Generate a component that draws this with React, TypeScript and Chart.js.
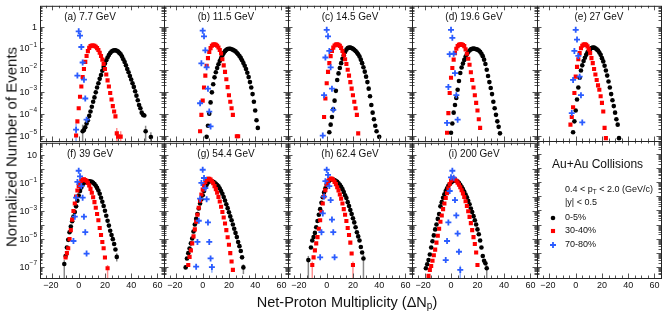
import React, { useEffect, useRef } from "react";
import { Chart, registerables } from "chart.js";
Chart.register(...registerables);

const FONT = '"Liberation Sans", Arial, Helvetica, sans-serif';

// ---------------- data ----------------
const energies = ["7.7", "11.5", "14.5", "19.6", "27", "39", "54.4", "62.4", "200"];
const panelTags = ["a", "b", "c", "d", "e", "f", "g", "h", "i"];
const centralities = ["0-5%", "30-40%", "70-80%"];
const xTickLabels = [-20, 0, 20, 40, 60];
const yTickExpTop = [0, -1, -2, -3, -4, -5];
const yTickExpBottom = [1, -1, -3, -5, -7];

// first net-proton bin (ΔNp) of every series, per panel a..i
const firstBin0to5 = [3, 3, 2, 0, -2, -11, -13, -14, -19];
const firstBin30to40 = [-2, -2, -2, -3, -4, -10, -11, -11, -17];
const firstBin70to80 = [-2, -2, -3, -3, -3, -4, -5, -5, -4];

// log10(normalized number of events), one value per integer bin (null = no point)
const a0to5 = [-4.80, -4.75, -4.62, -4.45, -4.30, -4.10, -3.90, -3.68, -3.45, -3.25, -3.02, -2.80, -2.60, -2.40, -2.22, -2.03, -1.86, -1.70, -1.55, -1.42, -1.31, -1.22, -1.15, -1.11, -1.09, -1.09, -1.11, -1.15, -1.21, -1.27, -1.38, -1.50, -1.63, -1.78, -1.95, -2.10, -2.27, -2.43, -2.60, -2.77, -2.97, -3.17, -3.38, -3.60, -3.75, -3.95, -4.05, -4.08, -4.80, null, null, null, -5.07];
const a30to40 = [-5.0, -4.35, -3.75, -3.22, -2.75, -2.32, -1.95, -1.62, -1.35, -1.13, -0.98, -0.90, -0.87, -0.87, -0.89, -0.93, -0.99, -1.08, -1.20, -1.35, -1.52, -1.72, -1.95, -2.20, -2.47, -2.75, -3.05, -3.35, -3.65, -3.90, -4.12, -4.90, -5.05, null, -5.05];
const a70to80 = [-4.73, -2.25, -0.22, -0.42, -0.94, -1.65, -2.44, -3.30, -4.27];

const b0to5 = [-5.06, -4.55, -4.00, -3.48, -3.02, -2.65, -2.33, -2.10, -1.90, -1.73, -1.58, -1.45, -1.32, -1.21, -1.13, -1.07, -1.03, -1.02, -1.02, -1.04, -1.07, -1.10, -1.14, -1.20, -1.27, -1.35, -1.44, -1.55, -1.67, -1.80, -1.95, -2.12, -2.32, -2.55, -2.80, -3.10, -3.45, -3.85, -4.30, -4.65];
const b30to40 = [-4.80, -4.05, -3.40, -2.80, -2.25, -1.80, -1.45, -1.17, -0.99, -0.88, -0.83, -0.82, -0.84, -0.88, -0.96, -1.08, -1.24, -1.50, -1.78, -2.08, -2.42, -2.78, -3.15, -3.45, -3.75, -4.05, null, null, -5.03, -5.03];
const b70to80 = [-3.52, -1.69, -0.19, -0.45, -1.09, -1.87, -2.85, -3.90, -4.58];

const c0to5 = [-4.85, -4.50, -4.15, -3.80, -3.40, -2.95, -2.45, -2.15, -1.90, -1.68, -1.48, -1.32, -1.17, -1.06, -0.99, -0.97, -0.97, -0.99, -1.02, -1.07, -1.12, -1.19, -1.27, -1.38, -1.52, -1.68, -1.87, -2.07, -2.30, -2.55, -2.85, -3.20, -3.60, -3.95, -4.25, -4.55, -4.80, null, -5.06];
const c30to40 = [-4.15, -3.30, -2.60, -2.08, -1.68, -1.36, -1.12, -0.97, -0.87, -0.83, -0.82, -0.84, -0.89, -0.98, -1.12, -1.30, -1.50, -1.72, -1.98, -2.25, -2.55, -2.85, -3.15, -3.45, -3.75, -4.05, -4.90];
const c70to80 = [-5.0, -3.15, -1.42, -0.15, -0.45, -1.12, -1.87, -2.85, -3.82];

const d0to5 = [-4.87, -4.45, -3.95, -3.60, -3.28, -2.90, -2.50, -2.13, -1.88, -1.70, -1.53, -1.39, -1.27, -1.17, -1.10, -1.05, -1.02, -1.01, -1.02, -1.04, -1.06, -1.10, -1.16, -1.25, -1.36, -1.52, -1.72, -1.98, -2.27, -2.55, -2.82, -3.10, -3.45, -3.75, -4.05, -4.35, -4.60, -4.90];
const d30to40 = [-4.87, -3.97, -3.05, -2.35, -1.90, -1.52, -1.22, -1.02, -0.90, -0.84, -0.82, -0.82, -0.85, -0.90, -1.05, -1.25, -1.48, -1.75, -2.10, -2.45, -2.80, -3.15, -3.50, -3.85, -4.25, -4.65];
const d70to80 = [-4.42, -2.77, -1.27, -0.15, -0.52, -1.25, -2.14, -3.15, -4.27];

const e0to5 = [-4.85, -4.35, -3.85, -3.35, -2.80, -2.35, -2.02, -1.78, -1.58, -1.43, -1.30, -1.18, -1.09, -1.03, -0.99, -0.97, -0.97, -1.00, -1.05, -1.10, -1.19, -1.30, -1.45, -1.60, -1.80, -2.02, -2.25, -2.52, -2.80, -3.10, -3.38, -3.65, -3.95, -4.25, -4.50, -5.12];
const e30to40 = [-4.50, -4.15, -3.70, -3.05, -2.30, -1.85, -1.50, -1.22, -1.00, -0.88, -0.83, -0.82, -0.84, -0.91, -1.05, -1.22, -1.45, -1.68, -1.95, -2.20, -2.45, -2.70, -2.90, -3.20, -3.50, -3.90, -4.65, -5.12];
const e70to80 = [-3.97, -2.45, -1.12, -0.15, -0.60, -1.35, -2.30, -3.15, -4.40];

const f0to5 = [-6.78, -6.20, -5.60, -5.05, -4.50, -4.10, -3.72, -3.38, -3.05, -2.65, -2.25, -1.88, -1.55, -1.30, -1.10, -0.97, -0.89, -0.85, -0.84, -0.85, -0.87, -0.90, -0.96, -1.05, -1.17, -1.33, -1.51, -1.75, -2.03, -2.32, -2.62, -2.97, -3.32, -3.68, -4.03, -4.40, -4.70, -5.00, -5.35, -5.74, -6.27];
const f30to40 = [-6.31, -6.00, -5.65, -5.00, -4.35, -3.60, -2.98, -2.45, -1.95, -1.52, -1.20, -0.97, -0.82, -0.74, -0.72, -0.76, -0.84, -0.97, -1.15, -1.40, -1.68, -2.00, -2.35, -2.75, -3.20, -3.65, -4.20, -4.70, -5.20, -5.65, -6.31, null, -7.08];
const f70to80 = [-5.13, -3.39, -2.03, -0.90, -0.10, -0.50, -1.20, -2.03, -3.39, -4.50, -6.03];

const g0to5 = [-7.02, -6.38, -6.00, -5.67, -5.30, -4.95, -4.45, -3.95, -3.55, -3.20, -2.80, -2.45, -2.15, -1.85, -1.55, -1.30, -1.10, -0.95, -0.87, -0.84, -0.85, -0.89, -0.95, -1.03, -1.12, -1.22, -1.37, -1.55, -1.75, -1.98, -2.23, -2.50, -2.78, -3.07, -3.37, -3.65, -3.95, -4.25, -4.55, -4.85, -5.20, -5.50, -5.85, -6.30, -7.02];
const g30to40 = [-6.85, -6.27, -5.80, -5.30, -4.80, -4.30, -3.75, -3.25, -2.75, -2.25, -1.80, -1.45, -1.15, -0.90, -0.75, -0.68, -0.68, -0.74, -0.85, -1.00, -1.20, -1.42, -1.68, -1.98, -2.30, -2.68, -3.05, -3.45, -3.88, -4.35, -4.86, -5.40, -6.00, -6.60, -7.20];
const g70to80 = [-6.97, -5.20, -3.68, -2.10, -0.97, -0.03, -0.62, -1.35, -2.14, -3.80, -5.20, -6.38, -7.00];

const h0to5 = [-6.50, null, -5.60, -5.09, -4.85, -4.55, -4.15, -3.70, -3.25, -2.85, -2.40, -2.00, -1.65, -1.35, -1.10, -0.92, -0.80, -0.75, -0.73, -0.74, -0.77, -0.83, -0.90, -1.00, -1.10, -1.25, -1.42, -1.62, -1.85, -2.05, -2.35, -2.62, -2.92, -3.20, -3.50, -3.80, -4.15, -4.50, -4.80, -5.09, -5.56, -5.95, -6.38];
const h30to40 = [-6.85, -6.30, -5.80, -5.30, -4.85, -4.25, -3.65, -3.05, -2.45, -1.95, -1.50, -1.10, -0.85, -0.70, -0.66, -0.68, -0.76, -0.90, -1.06, -1.28, -1.52, -1.80, -2.10, -2.45, -2.85, -3.25, -3.70, -4.20, -4.70, -5.25, -6.03, -6.85];
const h70to80 = [-6.30, -4.50, -3.16, -1.95, -0.85, -0.03, -0.40, -1.20, -2.20, -3.60, -4.50, -6.30];

const i0to5 = [-7.08, -6.80, -6.50, -6.10, -5.60, -5.15, -4.73, -4.30, -3.95, -3.55, -3.20, -2.65, -2.35, -2.03, -1.78, -1.55, -1.35, -1.18, -1.05, -0.95, -0.87, -0.82, -0.80, -0.82, -0.88, -0.97, -1.10, -1.25, -1.42, -1.60, -1.80, -2.00, -2.25, -2.50, -2.80, -3.05, -3.35, -3.65, -3.95, -4.30, -4.65, -5.10, -5.60, -6.20, -6.55, -6.73, -7.08];
const i30to40 = [-7.63, -7.20, -6.92, -6.55, -6.15, -5.75, -5.25, -4.75, -4.25, -3.75, -3.30, -2.85, -2.45, -2.05, -1.70, -1.35, -1.05, -0.80, -0.66, -0.66, -0.72, -0.82, -0.95, -1.10, -1.28, -1.50, -1.72, -1.98, -2.28, -2.62, -3.00, -3.40, -3.85, -4.35, -4.85, -5.35, -5.95, -6.85];
const i70to80 = [-6.50, -5.13, -3.80, -1.55, -0.57, -0.10, -0.60, -2.20, -3.30, -4.60, -5.90, -7.20];

// vertical error bars: [panel, series, bin, log10 low, log10 high]
const errorBars: number[][] = [
  [0, 0, 3, -5.3, -4.5], [0, 0, 51, -5.3, -4.55], [0, 0, 55, -5.3, -4.85],
  [0, 1, 29, -5.3, -4.65], [0, 1, 30, -5.3, -4.8], [0, 1, 32, -5.3, -4.8], [0, 2, -2, -5.3, -4.45],
  [5, 1, 22, -7.8, -6.85], [5, 0, -11, -7.8, -6.5], [5, 0, 29, -6.6, -6.0],
  [6, 0, 31, -7.5, -6.8], [6, 2, 7, -7.4, -6.8],
  [7, 0, -14, -7.8, -6.2], [7, 0, 28, -7.8, -6.1], [7, 1, -11, -7.8, -6.6], [7, 1, 20, -7.8, -6.6],
  [8, 0, 27, -7.8, -6.85], [8, 2, 7, -7.8, -6.9],
];

const series0to5 = [a0to5, b0to5, c0to5, d0to5, e0to5, f0to5, g0to5, h0to5, i0to5];
const series30to40 = [a30to40, b30to40, c30to40, d30to40, e30to40, f30to40, g30to40, h30to40, i30to40];
const series70to80 = [a70to80, b70to80, c70to80, d70to80, e70to80, f70to80, g70to80, h70to80, i70to80];

// ---------------- layout / style ----------------
const COL_LEFT = [40, 164, 288, 412, 537];
const COL_W = [124, 124, 124, 125, 124];
const ROW_TOP = [4, 141];
const ROW_H = [137, 137];
const PAD = { left: 40, right: 10, top: 4, bottom: 18 };
const Y_LOG_RANGE = [[-5.25, 0.95], [-7.78, 1.9]];
const X_MIN = -29.5;
const X_MAX = 65;
const COLORS = ["#000000", "#ff0000", "#2b5cff"];
const ERR_COLORS = ["#8a8a8a", "#ff9090", "#8fb0ff"];
const STYLES = ["circle", "rect", "cross"];
const RADII = [2.3, 2.9, 3.0];

function toPoints(first: number, vals: (number | null)[]) {
  const pts: { x: number; y: number }[] = [];
  vals.forEach((v, k) => {
    if (v !== null) pts.push({ x: first + k, y: Math.pow(10, v) });
  });
  return pts;
}

function buildDatasets(p: number) {
  const firsts = [firstBin0to5[p], firstBin30to40[p], firstBin70to80[p]];
  const vals = [series0to5[p], series30to40[p], series70to80[p]];
  const ds: any[] = [];
  [2, 1, 0].forEach((s) => {
    ds.push({
      label: centralities[s],
      data: toPoints(firsts[s], vals[s]),
      showLine: false,
      pointStyle: STYLES[s],
      pointRadius: RADII[s],
      pointBackgroundColor: COLORS[s],
      pointBorderColor: COLORS[s],
      pointBorderWidth: s === 2 ? 1.8 : 0,
      backgroundColor: COLORS[s],
      borderColor: COLORS[s],
    });
  });
  return ds;
}

function drawMarker(ctx: CanvasRenderingContext2D, s: number, x: number, y: number) {
  ctx.save();
  ctx.fillStyle = COLORS[s];
  ctx.strokeStyle = COLORS[s];
  if (s === 0) {
    ctx.beginPath();
    ctx.arc(x, y, RADII[0], 0, Math.PI * 2);
    ctx.fill();
  } else if (s === 1) {
    const h = RADII[1] * Math.SQRT1_2;
    ctx.fillRect(x - h, y - h, 2 * h, 2 * h);
  } else {
    ctx.lineWidth = 1.8;
    ctx.beginPath();
    ctx.moveTo(x - RADII[2], y);
    ctx.lineTo(x + RADII[2], y);
    ctx.moveTo(x, y - RADII[2]);
    ctx.lineTo(x, y + RADII[2]);
    ctx.stroke();
  }
  ctx.restore();
}

function makeDecor(p: number, row: number, col: number) {
  return {
    id: "decor" + p,
    beforeDatasetsDraw(chart: any) {
      const { ctx } = chart;
      const xs = chart.scales.x;
      const ys = chart.scales.y;
      ctx.save();
      ctx.lineWidth = 1.5;
      errorBars.filter((e) => e[0] === p).forEach((e) => {
        const px = xs.getPixelForValue(e[2]);
        const lo = Math.min(ys.getPixelForValue(Math.pow(10, e[3])), chart.chartArea.bottom);
        const hi = ys.getPixelForValue(Math.pow(10, e[4]));
        ctx.strokeStyle = ERR_COLORS[e[1]];
        ctx.beginPath();
        ctx.moveTo(px, lo);
        ctx.lineTo(px, hi);
        ctx.stroke();
      });
      ctx.restore();
    },
    afterDraw(chart: any) {
      const { ctx, chartArea: a } = chart;
      const xs = chart.scales.x;
      const ys = chart.scales.y;
      ctx.save();
      // ticks
      ctx.strokeStyle = "#555";
      ctx.lineWidth = 1;
      ctx.beginPath();
      for (let v = -25; v <= 65; v += 5) {
        const px = Math.round(xs.getPixelForValue(v)) + 0.5;
        if (px <= a.left + 1 || px >= a.right - 1) continue;
        const len = v % 20 === 0 ? 4.5 : 2.5;
        ctx.moveTo(px, a.bottom);
        ctx.lineTo(px, a.bottom - len);
        ctx.moveTo(px, a.top);
        ctx.lineTo(px, a.top + len);
      }
      const [lmin, lmax] = Y_LOG_RANGE[row];
      for (let e = Math.floor(lmin); e <= Math.ceil(lmax); e++) {
        for (let m = 1; m <= 9; m++) {
          const v = m * Math.pow(10, e);
          const py = Math.round(ys.getPixelForValue(v)) + 0.5;
          if (py <= a.top + 1 || py >= a.bottom - 1) continue;
          const len = m === 1 ? 4.5 : 2.5;
          ctx.moveTo(a.left, py);
          ctx.lineTo(a.left + len, py);
          ctx.moveTo(a.right, py);
          ctx.lineTo(a.right - len, py);
        }
      }
      ctx.stroke();
      // frame
      ctx.strokeStyle = "#222";
      ctx.strokeRect(a.left + 0.5, a.top + 0.5, a.right - a.left, a.bottom - a.top);

      ctx.fillStyle = "#111";
      // y tick labels
      if (col === 0) {
        const exps = row === 0 ? yTickExpTop : yTickExpBottom;
        exps.forEach((ex) => {
          const py = ys.getPixelForValue(Math.pow(10, ex));
          const right = a.left - 3;
          ctx.textBaseline = "middle";
          if (ex === 0 || ex === 1) {
            ctx.font = `9px ${FONT}`;
            ctx.textAlign = "right";
            ctx.fillText(ex === 0 ? "1" : "10", right, py + 0.5);
          } else {
            ctx.font = `6.5px ${FONT}`;
            const sup = "\u2212" + String(-ex);
            const ws = ctx.measureText(sup).width;
            ctx.textAlign = "right";
            ctx.fillText(sup, right, py - 3.5);
            ctx.font = `9px ${FONT}`;
            ctx.fillText("10", right - ws, py + 0.5);
          }
        });
      }
      // x tick labels
      if (row === 1) {
        ctx.font = `9px ${FONT}`;
        ctx.textAlign = "center";
        ctx.textBaseline = "top";
        xTickLabels.forEach((v) => {
          const px = xs.getPixelForValue(v);
          const txt = v < 0 ? "\u2212" + String(-v) : String(v);
          ctx.fillText(txt, px - (v < 0 ? 1.5 : 0), a.bottom + 3);
        });
      }
      // panel label
      if (p < 9) {
        ctx.font = `10px ${FONT}`;
        ctx.textAlign = "center";
        ctx.textBaseline = "middle";
        const lx = col === 0 ? a.left + 50 : a.left + 62;
        ctx.fillText(`(${panelTags[p]}) ${energies[p]} GeV`, lx, a.top + 11);
      } else {
        // legend panel
        ctx.textAlign = "left";
        ctx.textBaseline = "middle";
        ctx.font = `12px ${FONT}`;
        ctx.fillText("Au+Au Collisions", a.left + 15, a.top + 24);
        ctx.font = `9px ${FONT}`;
        let x0 = a.left + 28;
        const y0 = a.top + 49;
        const t1 = "0.4 < p";
        ctx.fillText(t1, x0, y0);
        x0 += ctx.measureText(t1).width;
        ctx.font = `6.5px ${FONT}`;
        ctx.fillText("T", x0, y0 + 2.5);
        x0 += ctx.measureText("T").width;
        ctx.font = `9px ${FONT}`;
        ctx.fillText(" < 2.0 (GeV/c)", x0, y0);
        ctx.fillText("|y| < 0.5", a.left + 28, a.top + 62);
        const ly = [77, 90, 104];
        centralities.forEach((c, s) => {
          drawMarker(ctx, s, a.left + 16, a.top + ly[s]);
          ctx.fillStyle = "#111";
          ctx.font = `9px ${FONT}`;
          ctx.fillText(c, a.left + 28, a.top + ly[s]);
        });
      }
      ctx.restore();
    },
  };
}

function Panel({ p }: { p: number }) {
  const ref = useRef<HTMLCanvasElement>(null);
  const row = Math.floor(p / 5);
  const col = p % 5;
  const w = COL_W[col] + PAD.left + PAD.right;
  const h = ROW_H[row] + PAD.top + PAD.bottom;
  useEffect(() => {
    const chart = new Chart(ref.current as HTMLCanvasElement, {
      type: "scatter",
      data: { datasets: p < 9 ? buildDatasets(p) : [] },
      options: {
        animation: false,
        responsive: false,
        maintainAspectRatio: false,
        events: [],
        layout: { padding: PAD },
        scales: {
          x: { type: "linear", min: X_MIN, max: X_MAX, display: false },
          y: {
            type: "logarithmic",
            min: Math.pow(10, Y_LOG_RANGE[row][0]),
            max: Math.pow(10, Y_LOG_RANGE[row][1]),
            display: false,
          },
        },
        plugins: { legend: { display: false }, tooltip: { enabled: false } },
      } as any,
      plugins: [makeDecor(p, row, col) as any],
    });
    return () => chart.destroy();
  }, [p]);
  return (
    <canvas
      ref={ref}
      width={w}
      height={h}
      style={{
        position: "absolute",
        left: COL_LEFT[col] - PAD.left,
        top: ROW_TOP[row] - PAD.top,
        width: w,
        height: h,
      }}
    />
  );
}

export default function App() {
  const panels = Array.from({ length: 10 }, (_, k) => k);
  return (
    <div
      style={{
        position: "absolute",
        left: 0,
        top: 0,
        width: 670,
        height: 313,
        background: "#fff",
        overflow: "hidden",
        fontFamily: FONT,
        color: "#111",
      }}
    >
      {panels.map((k) => (
        <Panel key={k} p={k} />
      ))}
      <div
        style={{
          position: "absolute",
          left: 11,
          top: 147,
          transform: "translate(-50%, -50%) rotate(-90deg)",
          whiteSpace: "nowrap",
          fontSize: 15,
        }}
      >
        Normalized Number of Events
      </div>
      <div
        style={{
          position: "absolute",
          left: 347,
          top: 302,
          transform: "translate(-50%, -50%)",
          whiteSpace: "nowrap",
          fontSize: 14.5,
        }}
      >
        Net-Proton Multiplicity (ΔN
        <span style={{ fontSize: 10, verticalAlign: "-2px" }}>p</span>)
      </div>
    </div>
  );
}
